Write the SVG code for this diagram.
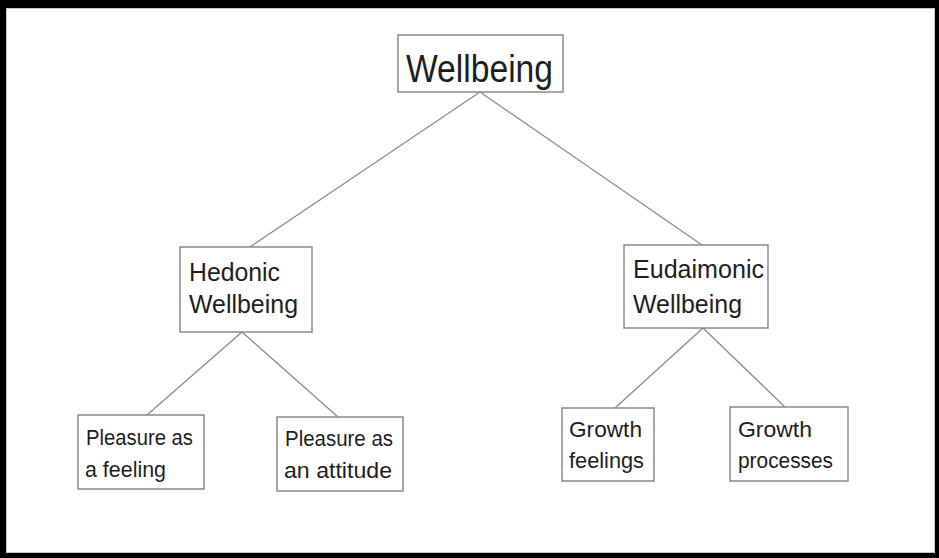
<svg xmlns="http://www.w3.org/2000/svg" width="939" height="558" viewBox="0 0 939 558">
  <style>
    .box { fill: #ffffff; stroke: #8a8a8a; stroke-width: 1.5; }
    .lbl { font-family: "Liberation Sans", Arial, sans-serif; fill: #1e1e1e; }
    .big { font-size: 38px; }
    .mid { font-size: 25.5px; }
    .sm { font-size: 22.5px; }
    .conn line { stroke: #8c8c8c; stroke-width: 1.3; }
  </style>
  <rect x="0" y="0" width="939" height="558" fill="#000000"/>
  <rect x="6" y="8" width="929" height="545" fill="#ffffff"/>
  <rect x="6.5" y="8.5" width="928" height="544" fill="none" stroke="#c8c8c8" stroke-width="1"/>

  <g id="connectors" class="conn">
    <line x1="480" y1="92" x2="250" y2="247"/>
    <line x1="480" y1="92" x2="702" y2="245"/>
    <line x1="242" y1="332" x2="147" y2="415"/>
    <line x1="242" y1="332" x2="338" y2="417"/>
    <line x1="703" y1="328" x2="615" y2="408"/>
    <line x1="703" y1="328" x2="785" y2="407"/>
  </g>

  <g id="wellbeing">
    <rect class="box" x="398" y="35" width="165" height="57"/>
    <text class="lbl big" x="406" y="82" textLength="147" lengthAdjust="spacingAndGlyphs">Wellbeing</text>
  </g>

  <g id="hedonic">
    <rect class="box" x="180" y="247" width="132" height="85"/>
    <text class="lbl mid" x="189" y="281" textLength="91" lengthAdjust="spacingAndGlyphs">Hedonic</text>
    <text class="lbl mid" x="189" y="313" textLength="109" lengthAdjust="spacingAndGlyphs">Wellbeing</text>
  </g>

  <g id="eudaimonic">
    <rect class="box" x="624" y="245" width="144" height="83"/>
    <text class="lbl mid" x="633" y="278" textLength="131" lengthAdjust="spacingAndGlyphs">Eudaimonic</text>
    <text class="lbl mid" x="633" y="313" textLength="109" lengthAdjust="spacingAndGlyphs">Wellbeing</text>
  </g>

  <g id="pleasure-feeling">
    <rect class="box" x="78" y="415" width="126" height="74"/>
    <text class="lbl sm" x="86" y="445" textLength="107" lengthAdjust="spacingAndGlyphs">Pleasure as</text>
    <text class="lbl sm" x="85" y="477" textLength="81" lengthAdjust="spacingAndGlyphs">a feeling</text>
  </g>

  <g id="pleasure-attitude">
    <rect class="box" x="277" y="417" width="126" height="74"/>
    <text class="lbl sm" x="285" y="446" textLength="108" lengthAdjust="spacingAndGlyphs">Pleasure as</text>
    <text class="lbl sm" x="284" y="478" textLength="108" lengthAdjust="spacingAndGlyphs">an attitude</text>
  </g>

  <g id="growth-feelings">
    <rect class="box" x="562" y="408" width="92" height="73"/>
    <text class="lbl sm" x="569" y="437" textLength="73" lengthAdjust="spacingAndGlyphs">Growth</text>
    <text class="lbl sm" x="569" y="468" textLength="75" lengthAdjust="spacingAndGlyphs">feelings</text>
  </g>

  <g id="growth-processes">
    <rect class="box" x="730" y="407" width="118" height="74"/>
    <text class="lbl sm" x="738" y="437" textLength="74" lengthAdjust="spacingAndGlyphs">Growth</text>
    <text class="lbl sm" x="738" y="468" textLength="95" lengthAdjust="spacingAndGlyphs">processes</text>
  </g>
</svg>
